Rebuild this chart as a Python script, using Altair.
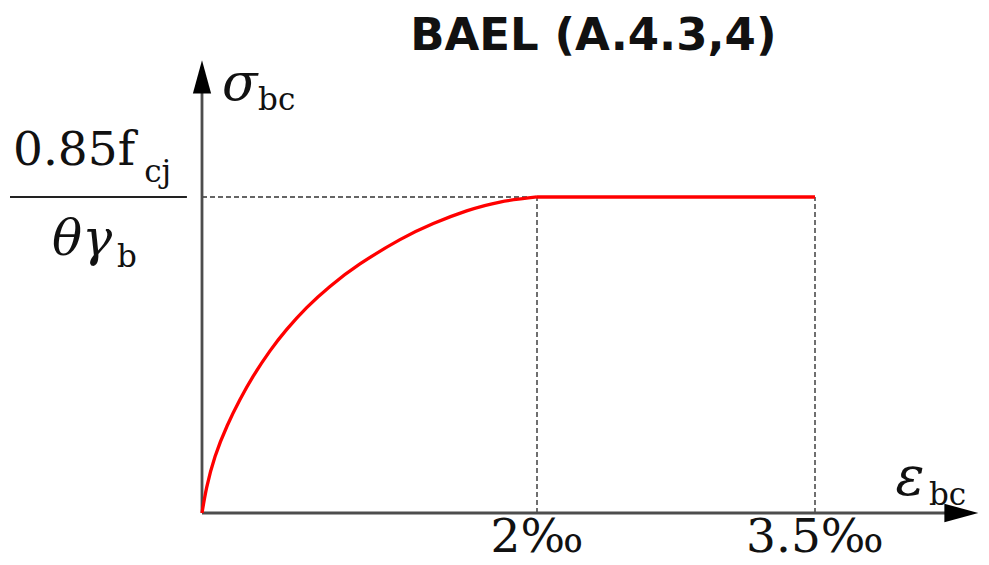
import altair as alt
import pandas as pd

# ---- data ----
strain = [0, 0.028, 0.078, 0.151, 0.227, 0.306, 0.406, 0.506, 0.625, 0.764, 0.943, 1.182, 1.381, 1.580, 1.779, 2.0]
stress = [0, 0.081, 0.179, 0.277, 0.359, 0.433, 0.513, 0.581, 0.650, 0.717, 0.788, 0.865, 0.916, 0.956, 0.984, 1.0]
plateau_strain = [2.0, 3.5]
plateau_stress = [1.0, 1.0]
tick_values = [2.0, 3.5]
tick_labels = ["2‰", "3.5‰"]
title_text = "BAEL (A.4.3,4)"
y_label = ["σ", "bc"]
x_label = ["ε", "bc"]
frac_num = ["0.85f", "cj"]
frac_den = ["θγ", "b"]

# ---- scales (schematic axis: piecewise linear strain axis) ----
xs = alt.Scale(domain=[-1.158, 0, 2, 3.5, 4.396], range=[0, 194, 529, 807, 973], nice=False, zero=False)
ys = alt.Scale(domain=[-0.1392, 1.598], range=[549, 0], nice=False, zero=False)

def X(f="x"):
    return alt.X(f"{f}:Q", scale=xs, axis=None)

def Y(f="y"):
    return alt.Y(f"{f}:Q", scale=ys, axis=None)

curve_df = pd.DataFrame({"x": strain, "y": stress})
plateau_df = pd.DataFrame({"x": plateau_strain, "y": plateau_stress})
peak_x = tick_values[0]
end_x = tick_values[1]
peak_y = max(stress)

dash_df = pd.DataFrame({
    "x": [0, peak_x, end_x],
    "x2": [peak_x, peak_x, end_x],
    "y": [peak_y, 0, 0],
    "y2": [peak_y, peak_y, peak_y],
})
dashes = alt.Chart(dash_df).mark_rule(color="#333333", strokeWidth=1.4, strokeDash=[5, 3]).encode(
    x=X("x"), x2="x2:Q", y=Y("y"), y2="y2:Q")

axis_df = pd.DataFrame({"x": [0, 0], "x2": [4.3, 0], "y": [0, 0], "y2": [0, 1.37]})
axes = alt.Chart(axis_df).mark_rule(color="#4d4d4d", strokeWidth=2.8).encode(
    x=X("x"), x2="x2:Q", y=Y("y"), y2="y2:Q")

arrow_x = alt.Chart(pd.DataFrame({"x": [4.29], "y": [0]})).mark_point(
    shape="M-1,-0.55L1,0L-1,0.55Z", filled=True, color="black", opacity=1, size=1150
).encode(x=X(), y=Y())
arrow_y = alt.Chart(pd.DataFrame({"x": [0], "y": [1.38]})).mark_point(
    shape="M-0.55,1L0,-1L0.55,1Z", filled=True, color="black", opacity=1, size=1100
).encode(x=X(), y=Y())

curve = alt.Chart(curve_df).mark_line(color="#ff0000", strokeWidth=3.3, interpolate="natural").encode(
    x=X(), y=Y())
plateau = alt.Chart(plateau_df).mark_line(color="#ff0000", strokeWidth=3.3).encode(x=X(), y=Y())

frac_bar = alt.Chart(pd.DataFrame({"x": [-1.146], "x2": [-0.09], "y": [peak_y]})).mark_rule(
    color="#222222", strokeWidth=2).encode(x=X("x"), x2="x2:Q", y=Y("y"))

def txt(df, size, font="DejaVu Serif", style="normal", weight="normal", align="left"):
    return alt.Chart(df).mark_text(
        align=align, baseline="alphabetic", font=font, fontSize=size,
        fontStyle=style, fontWeight=weight, color="#111111"
    ).encode(x=X(), y=Y(), text="t:N")

ticks = txt(pd.DataFrame({"x": tick_values, "y": [-0.124, -0.124], "t": tick_labels}), 47, align="center")
title = txt(pd.DataFrame({"x": [2.304], "y": [1.464], "t": [title_text]}), 45, font="DejaVu Sans",
            weight="bold", align="center")
sig = txt(pd.DataFrame({"x": [0.120], "y": [1.307], "t": [y_label[0]]}), 52, style="italic")
sig_sub = txt(pd.DataFrame({"x": [0.335], "y": [1.275], "t": [y_label[1]]}), 31)
eps = txt(pd.DataFrame({"x": [3.935], "y": [0.057], "t": [x_label[0]]}), 54, style="italic")
eps_sub = txt(pd.DataFrame({"x": [4.115], "y": [0.025], "t": [x_label[1]]}), 31)
num = txt(pd.DataFrame({"x": [-1.128], "y": [1.101], "t": [frac_num[0]]}), 47)
num_sub = txt(pd.DataFrame({"x": [-0.345], "y": [1.047], "t": [frac_num[1]]}), 31)
den = txt(pd.DataFrame({"x": [-0.895], "y": [0.816], "t": [frac_den[0]]}), 50, style="italic")
den_sub = txt(pd.DataFrame({"x": [-0.507], "y": [0.778], "t": [frac_den[1]]}), 31)

chart = alt.layer(
    dashes, axes, arrow_x, arrow_y, curve, plateau, frac_bar,
    ticks, title, sig, sig_sub, eps, eps_sub, num, num_sub, den, den_sub
).properties(
    width=973, height=549, autosize=alt.AutoSizeParams(type="none"), padding=0
).configure_view(stroke=None)

chart.save("out.html", embed_options={"renderer": "svg", "actions": False})
